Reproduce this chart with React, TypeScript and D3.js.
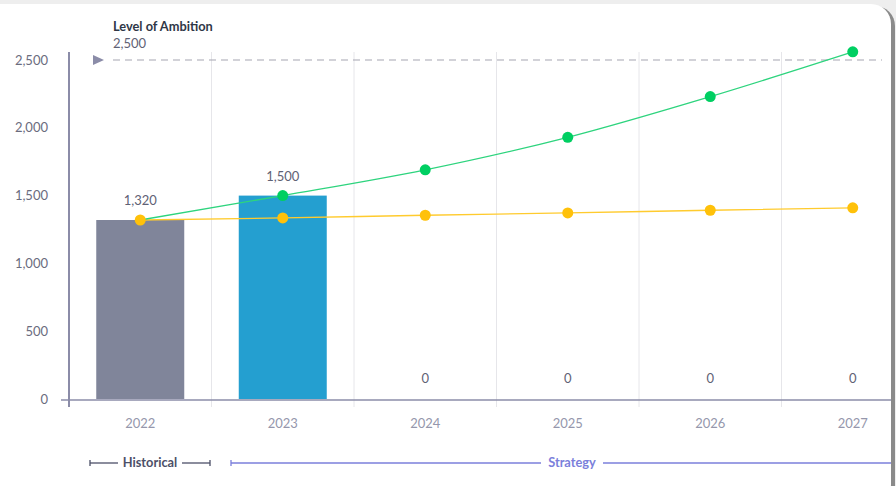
import React from "react";
import * as d3 from "d3";

const years = ["2022", "2023", "2024", "2025", "2026", "2027"];
const barValues = [1320, 1500, 0, 0, 0, 0];
const barColors = ["#80859a", "#249fd0", "#249fd0", "#249fd0", "#249fd0", "#249fd0"];
const greenValues = [1320, 1500, 1690, 1930, 2230, 2560];
const yellowValues = [1320, 1335, 1355, 1372, 1392, 1410];
const yTicks = [0, 500, 1000, 1500, 2000, 2500];
const ambitionValue = 2500;

const W = 896;
const H = 486;
const FONT = "Lato, 'Open Sans', sans-serif";

export default function App() {
  const x = d3.scaleBand<string>().domain(years).range([69, 924]).paddingInner(0).paddingOuter(0);
  const y = d3.scaleLinear().domain([0, 2500]).range([399, 60]);
  const bw = 88;
  const cx = (yr: string) => (x(yr) as number) + x.bandwidth() / 2;
  const fmt = d3.format(",");

  const line = d3
    .line<number>()
    .x((_, i) => cx(years[i]))
    .y((d) => y(d))
    .curve(d3.curveMonotoneX);

  return (
    <svg
      width={W}
      height={H}
      style={{ position: "absolute", left: 0, top: 0, fontFamily: FONT }}
    >
      <defs>
        <clipPath id="card">
          <rect x={-20} y={4} width={911} height={500} rx={20} />
        </clipPath>
      </defs>
      <rect x={0} y={0} width={W} height={H} fill="#eeeeee" />
      <rect x={-18} y={6} width={913} height={500} rx={20} fill="#8a8a8a" />
      <rect x={-20} y={4} width={911} height={500} rx={20} fill="#ffffff" />
      <g clipPath="url(#card)">
        {years.slice(1).map((yr) => (
          <line
            key={yr}
            x1={x(yr) as number}
            x2={x(yr) as number}
            y1={52}
            y2={407}
            stroke="#e6e6ea"
            strokeWidth={1}
          />
        ))}
        {years.map((yr, i) =>
          barValues[i] > 0 ? (
            <rect
              key={yr}
              x={cx(yr) - bw / 2}
              y={y(barValues[i])}
              width={bw}
              height={y(0) - y(barValues[i])}
              fill={barColors[i]}
            />
          ) : null
        )}
        {years.map((yr, i) => (
          <text
            key={yr}
            x={cx(yr)}
            y={barValues[i] > 0 ? y(barValues[i]) - 15 : y(0) - 16}
            textAnchor="middle"
            fontSize={13}
            fill="#5f6275"
          >
            {fmt(barValues[i])}
          </text>
        ))}
        <line
          x1={113}
          x2={882}
          y1={y(ambitionValue)}
          y2={y(ambitionValue)}
          stroke="#a6a6b2"
          strokeWidth={1.2}
          strokeDasharray="7 5"
        />
        <path
          d={`M93,${y(ambitionValue) - 5} L104,${y(ambitionValue)} L93,${y(ambitionValue) + 5} Z`}
          fill="#8b8ca8"
        />
        <text x={113} y={31} fontSize={12.8} fontWeight={700} fill="#2f3747">
          Level of Ambition
        </text>
        <text x={113} y={48} fontSize={13} fill="#5f6275">
          {fmt(ambitionValue)}
        </text>
        <path d={line(yellowValues) || ""} fill="none" stroke="#ffcb2e" strokeWidth={1.3} />
        <path d={line(greenValues) || ""} fill="none" stroke="#2ed47e" strokeWidth={1.3} />
        {yellowValues.map((v, i) => (
          <circle key={"y" + i} cx={cx(years[i])} cy={y(v)} r={5.5} fill="#ffc10a" />
        ))}
        {greenValues.map((v, i) =>
          i === 0 ? null : (
            <circle key={"g" + i} cx={cx(years[i])} cy={y(v)} r={5.5} fill="#00cf62" />
          )
        )}
        <line x1={61} x2={900} y1={400} y2={400} stroke="#8b8ca8" strokeWidth={1.5} />
        <line x1={69} x2={69} y1={52} y2={407} stroke="#8b8ca8" strokeWidth={2} />
        {yTicks.map((t) => (
          <text
            key={t}
            x={48}
            y={y(t)}
            dy="0.35em"
            textAnchor="end"
            fontSize={13}
            fill="#6a6c7e"
          >
            {fmt(t)}
          </text>
        ))}
        {years.map((yr) => (
          <text
            key={yr}
            x={cx(yr)}
            y={428}
            textAnchor="middle"
            fontSize={13}
            fill="#9597ac"
          >
            {yr}
          </text>
        ))}
        <g stroke="#4c5068" strokeWidth={1.3}>
          <line x1={90} x2={118} y1={463} y2={463} />
          <line x1={182} x2={210} y1={463} y2={463} />
          <line x1={90} x2={90} y1={460} y2={466} />
          <line x1={210} x2={210} y1={460} y2={466} />
        </g>
        <text x={150} y={467} textAnchor="middle" fontSize={12.8} fontWeight={700} fill="#4c5068">
          Historical
        </text>
        <g stroke="#7b7fdb" strokeWidth={1.3}>
          <line x1={231} x2={541} y1={463} y2={463} />
          <line x1={603} x2={900} y1={463} y2={463} />
          <line x1={231} x2={231} y1={460} y2={466} />
        </g>
        <text x={572} y={467} textAnchor="middle" fontSize={12.8} fontWeight={700} fill="#7b7fdb">
          Strategy
        </text>
      </g>
    </svg>
  );
}
